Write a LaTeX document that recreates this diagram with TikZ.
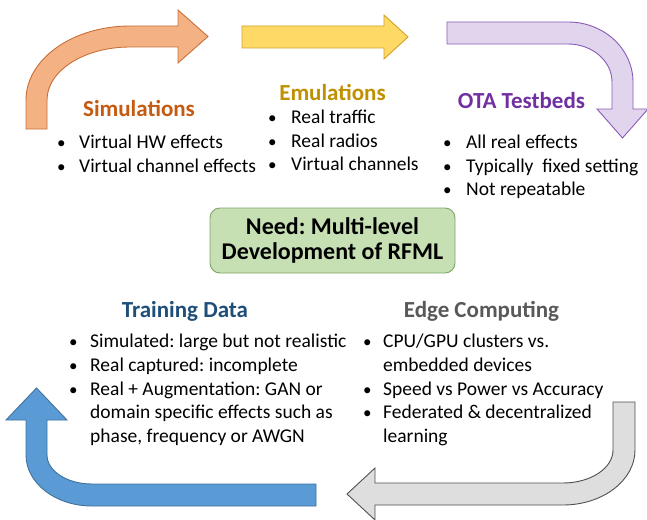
\documentclass[tikz,border=0pt]{standalone}
\usepackage{fontspec}
\setmainfont{Carlito}
\frenchspacing
\definecolor{orfill}{HTML}{F4B183}
\definecolor{ordraw}{HTML}{C9703A}
\definecolor{ortext}{HTML}{C55A11}
\definecolor{yefill}{HTML}{FFD966}
\definecolor{yedraw}{HTML}{D1A228}
\definecolor{yetext}{HTML}{BF9000}
\definecolor{pufill}{HTML}{E1D5EE}
\definecolor{pudraw}{HTML}{8A5BB5}
\definecolor{putext}{HTML}{7030A0}
\definecolor{blfill}{HTML}{5B9BD5}
\definecolor{bldraw}{HTML}{41719C}
\definecolor{bltext}{HTML}{1F4E79}
\definecolor{grfill}{HTML}{DEDEDE}
\definecolor{grdraw}{HTML}{505050}
\definecolor{grtext}{HTML}{595959}
\definecolor{gnfill}{HTML}{C6E0B4}
\definecolor{gndraw}{HTML}{7DA666}
\begin{document}
\begin{tikzpicture}[x=1pt,y=-1pt,
  arrowshape/.style={line width=0.9pt, line join=miter},
  title/.style={anchor=base, inner sep=0pt, font=\fontsize{23}{27}\selectfont\bfseries},
  item/.style={anchor=base west, inner sep=0pt, font=\fontsize{19.5}{22}\selectfont},
  dot/.style={anchor=base west, inner sep=0pt, font=\fontsize{17}{20}\selectfont},
  greenbox/.style={draw=gndraw, fill=gnfill, line width=0.9pt, rounded corners=10pt,
    minimum width=245pt, minimum height=65pt, align=center, inner sep=0pt,
    font=\fontsize{24}{25}\selectfont\bfseries}
]
\useasboundingbox (0,0) rectangle (647,519);

% orange curved arrow
\draw[arrowshape, fill=orfill, draw=ordraw]
  (26,129) -- (26,100) arc[start angle=180, end angle=270, x radius=104, y radius=74]
  -- (178,26) -- (178,10) -- (208,36.5) -- (178,63) -- (178,47) -- (130,47)
  arc[start angle=270, end angle=180, x radius=83, y radius=53]
  -- (47,129) -- cycle;

% yellow straight arrow
\draw[arrowshape, fill=yefill, draw=yedraw]
  (242,26) -- (384,26) -- (384,15) -- (408,37) -- (384,59) -- (384,48) -- (242,48) -- cycle;

% purple curved arrow
\draw[arrowshape, fill=pufill, draw=pudraw]
  (447,22) -- (568,22) arc[start angle=270, end angle=360, x radius=65, y radius=60]
  -- (633,109) -- (648,109) -- (622.5,138) -- (597,109) -- (612,109) -- (612,82)
  arc[start angle=0, end angle=-90, x radius=44, y radius=38]
  -- (447,44) -- cycle;

% gray curved arrow
\draw[arrowshape, fill=grfill, draw=grdraw]
  (635,402) -- (635,450) arc[start angle=0, end angle=90, x radius=72, y radius=55]
  -- (375,505) -- (375,520) -- (347,494) -- (375,468) -- (375,483) -- (563,483)
  arc[start angle=90, end angle=0, x radius=50, y radius=33]
  -- (613,402) -- cycle;

% blue curved arrow
\draw[arrowshape, fill=blfill, draw=bldraw]
  (316,484) -- (92,484) arc[start angle=90, end angle=180, x radius=45, y radius=29]
  -- (47,420) -- (67,420) -- (36.5,388) -- (6,420) -- (26,420) -- (26,455)
  arc[start angle=180, end angle=90, x radius=66, y radius=51]
  -- (316,506) -- cycle;

% titles
\node[title, text=ortext] (sim) at (139,116) {Simulations};
\node[title, text=yetext] (emu) at (332.5,100) {Emulations};
\node[title, text=putext] (ota) at (521.5,108) {OTA Testbeds};
\node[title, text=bltext] (train) at (185,317) {Training Data};
\node[title, text=grtext] (edge) at (481.5,317) {Edge Computing};

% Simulations bullets
\node[dot] (simd1) at (57,148) {•};
\node[item] (sim1) at (79,148) {Virtual HW effects};
\node[dot] (simd2) at (57,172) {•};
\node[item] (sim2) at (79,172) {Virtual channel effects};

% Emulations bullets
\node[dot] (emud1) at (268,123) {•};
\node[item] (emu1) at (291,123) {Real traffic};
\node[dot] (emud2) at (268,147) {•};
\node[item] (emu2) at (291,147) {Real radios};
\node[dot] (emud3) at (268,170) {•};
\node[item] (emu3) at (291,170) {Virtual channels};

% OTA bullets
\node[dot] (otad1) at (443,148) {•};
\node[item] (ota1) at (466,148) {All real effects};
\node[dot] (otad2) at (443,172) {•};
\node[item] (ota2) at (466,172) {Typically\ \ fixed setting};
\node[dot] (otad3) at (443,195) {•};
\node[item] (ota3) at (466,195) {Not repeatable};

% green box
\node[greenbox] (need) at (332.5,240.5) {Need: Multi-level\\Development of RFML};

% Training bullets
\node[dot] (trd1) at (69,347) {•};
\node[item] (tr1) at (90,347) {Simulated: large but not realistic};
\node[dot] (trd2) at (69,371) {•};
\node[item] (tr2) at (90,371) {Real captured: incomplete};
\node[dot] (trd3) at (69,395) {•};
\node[item] (tr3) at (90,395) {Real + Augmentation: GAN or};
\node[item] (tr4) at (90,418) {domain specific effects such as};
\node[item] (tr5) at (90,442) {phase, frequency or AWGN};

% Edge bullets
\node[dot] (edd1) at (363,347) {•};
\node[item] (ed1) at (383,347) {CPU/GPU clusters vs.};
\node[item] (ed2) at (383,371) {embedded devices};
\node[dot] (edd3) at (363,395) {•};
\node[item] (ed3) at (383,395) {Speed vs Power vs Accuracy};
\node[dot] (edd4) at (363,418) {•};
\node[item] (ed4) at (383,418) {Federated \& decentralized};
\node[item] (ed5) at (383,442) {learning};
\end{tikzpicture}
\end{document}
